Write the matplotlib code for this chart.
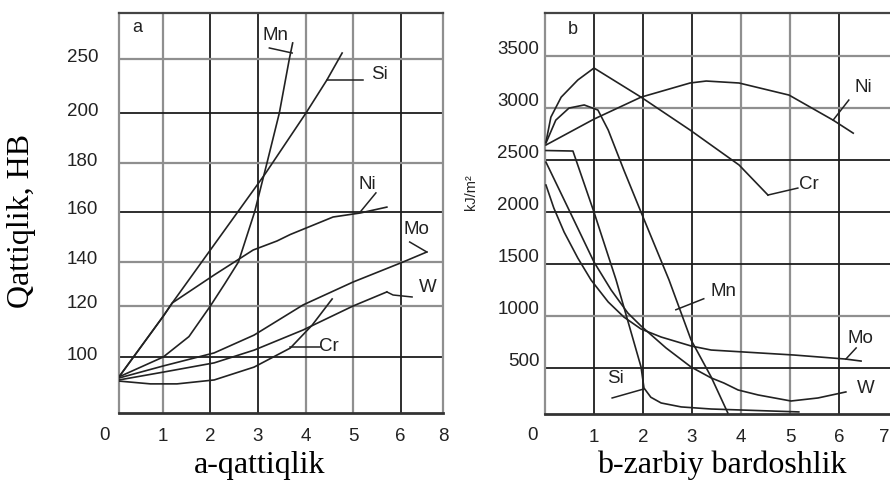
import numpy as np
import matplotlib
matplotlib.use('Agg')
import matplotlib.pyplot as plt
from matplotlib.transforms import ScaledTranslation

plt.rcParams['font.family'] = ['Liberation Sans', 'DejaVu Sans']

# ---- panel a: hardness HB vs alloying element, % ----
a_mn_x = [0.08, 1.01, 1.55, 2.0, 2.3, 2.59, 2.93, 3.19, 3.45, 3.66, 3.73]
a_mn_y = [92.9, 100, 108, 120, 130, 140, 160, 180, 200, 250, 265]
a_si_x = [0.08, 1.01, 1.2, 2.0, 3.15, 4.01, 4.45, 4.77]
a_si_y = [92.9, 116, 121.4, 144.8, 175.5, 200, 230.6, 255.6]
a_ni_x = [0.08, 1.01, 1.2, 2.08, 2.9, 3.4, 3.68, 4.58, 5.15, 5.71]
a_ni_y = [92.9, 116, 121.4, 134.1, 144.8, 148.4, 151, 158, 159.6, 162]
a_mo_x = [0.08, 1.01, 2.08, 2.92, 3.95, 5.0, 6.05, 6.55]
a_mo_y = [92.5, 96.8, 101.6, 108.6, 120.5, 130.9, 140, 144]
a_w_x = [0.08, 1.01, 2.08, 2.92, 3.95, 5.0, 5.71]
a_w_y = [91.8, 94.6, 97.9, 102.7, 110.6, 120, 126.4]
a_cr_x = [0.08, 0.74, 1.3, 2.08, 2.92, 3.68, 4.14, 4.56]
a_cr_y = [91.4, 90.4, 90.4, 91.8, 96.4, 103.5, 112.5, 123.2]

a_yticks = [100, 120, 140, 160, 180, 200, 250]
a_xticks = [1, 2, 3, 4, 5, 6, 6.89]
a_xticklabels = ['1', '2', '3', '4', '5', '6', '8']

# ---- panel b: impact toughness kJ/m2 ----
b_cr_x = [0.02, 0.12, 0.33, 0.67, 1.0, 1.96, 2.96, 3.96, 4.55]
b_cr_y = [2677, 2916, 3108, 3273, 3388, 3108, 2792, 2456, 2167]
b_ni_x = [0.02, 1.0, 1.96, 2.96, 3.29, 3.96, 4.98, 5.88, 6.29]
b_ni_y = [2648, 2897, 3108, 3244, 3263, 3244, 3128, 2887, 2762]
b_mn_x = [0.02, 0.22, 0.49, 0.80, 1.08, 1.29, 1.61, 1.96, 2.53, 2.98, 3.39, 3.73]
b_mn_y = [2667, 2887, 3003, 3033, 2984, 2792, 2406, 2002, 1352, 775, 419, 73]
b_si_x = [0.02, 0.57, 1.0, 1.45, 1.96, 2.02, 2.16, 2.37, 2.78, 3.39, 5.18]
b_si_y = [2595, 2590, 2002, 1352, 514, 312, 223, 168, 130, 110, 82]
b_mo_x = [0.02, 0.18, 0.39, 0.67, 0.94, 1.29, 1.61, 1.96, 2.37, 2.98, 3.39, 5.08, 6.14, 6.45]
b_mo_y = [2263, 2042, 1811, 1561, 1350, 1139, 994, 879, 802, 716, 677, 629, 590, 571]
b_w_x = [0.02, 0.51, 1.0, 1.35, 1.69, 1.96, 2.47, 2.98, 3.39, 3.65, 3.94, 4.35, 5.02, 5.57, 6.14]
b_w_y = [2483, 2004, 1523, 1254, 1033, 908, 697, 514, 409, 360, 293, 245, 187, 216, 274]

b_yticks = [500, 1000, 1500, 2000, 2500, 3000, 3500]
b_xgrid = [1, 2, 3, 4, 5, 6]
b_xticks = [1, 2, 3, 4, 5, 6, 6.93]
b_xticklabels = ['1', '2', '3', '4', '5', '6', '7']

# broken (non-uniform) HB axis of the original figure
a_scale_vals = [80, 100, 120, 140, 160, 180, 200, 250, 293]
a_scale_pos = [0, 56, 107, 151, 201, 250, 300, 354, 400]

GRAY = '#8f8f8f'
DARK = '#1c1c1c'
INK = '#222222'
SERIF = ['Liberation Serif', 'DejaVu Serif']

fig = plt.figure(figsize=(8.9, 4.8), dpi=100)
ax1 = fig.add_axes([119 / 890, 67 / 480, 324 / 890, 400 / 480])
ax2 = fig.add_axes([545 / 890, 66 / 480, 7.2 * 49 / 890, 401 / 480])


def fwd(v):
    return np.interp(v, a_scale_vals, a_scale_pos)


def inv(p):
    return np.interp(p, a_scale_pos, a_scale_vals)


ax1.set_yscale('function', functions=(fwd, inv))
ax1.set_xlim(0.08, 6.89)
ax1.set_ylim(80, 293)
ax2.set_xlim(0, 7.2)
ax2.set_ylim(62, 3917)

# grid
for x in a_xticks[:-1]:
    ax1.axvline(x, color=DARK if x in (2, 3, 6) else GRAY, lw=1.3 if x in (2, 3, 6) else 1.6, zorder=1)
for y in a_yticks:
    ax1.axhline(y, color=DARK if y in (100, 160, 200) else GRAY, lw=1.3 if y in (100, 160, 200) else 1.6, zorder=1)
for x in b_xgrid:
    ax2.axvline(x, color=DARK if x in (1, 2, 3, 6) else GRAY, lw=1.3 if x in (1, 2, 3, 6) else 1.6, zorder=1)
for y in b_yticks:
    dark = y in (500, 1500, 2000, 2500)
    ax2.axhline(y, color=DARK if dark else GRAY, lw=1.3 if dark else 1.6, zorder=1)

for ax in (ax1, ax2):
    ax.spines['left'].set_color(GRAY)
    ax.spines['left'].set_linewidth(1.6)
    ax.spines['right'].set_color(GRAY)
    ax.spines['right'].set_linewidth(1.6)
    ax.spines['top'].set_color('#444444')
    ax.spines['top'].set_linewidth(1.6)
    ax.spines['bottom'].set_color('#333333')
    ax.spines['bottom'].set_linewidth(2)

# curves
for xs, ys in [(a_mn_x, a_mn_y), (a_si_x, a_si_y), (a_ni_x, a_ni_y),
               (a_mo_x, a_mo_y), (a_w_x, a_w_y), (a_cr_x, a_cr_y)]:
    ax1.plot(xs, ys, color=INK, lw=1.2, zorder=3)
for xs, ys in [(b_cr_x, b_cr_y), (b_ni_x, b_ni_y), (b_mn_x, b_mn_y),
               (b_si_x, b_si_y), (b_mo_x, b_mo_y), (b_w_x, b_w_y)]:
    ax2.plot(xs, ys, color=INK, lw=1.2, zorder=3)

# leader lines and curve labels
lab_kw = dict(fontsize=13.5, color=INK, ha='center', va='center', zorder=4)
ax1.plot([3.24, 3.72], [260.3, 255.6], color=INK, lw=1.1)
ax1.text(3.36, 272.4, 'Mn', **lab_kw)
ax1.plot([4.45, 5.21], [230.6, 230.6], color=INK, lw=1.1)
ax1.text(5.55, 235.2, 'Si', **lab_kw)
ax1.plot([5.15, 5.48], [160, 167.8], color=INK, lw=1.1)
ax1.text(5.29, 171.4, 'Ni', **lab_kw)
ax1.plot([6.55, 6.19], [144, 148], color=INK, lw=1.1)
ax1.text(6.34, 152.8, 'Mo', **lab_kw)
ax1.plot([5.71, 5.84, 6.24], [126.4, 125.0, 124.1], color=INK, lw=1.1)
ax1.text(6.58, 128.2, 'W', **lab_kw)
ax1.plot([3.68, 4.31], [103.9, 103.9], color=INK, lw=1.1)
ax1.text(4.29, 104, 'Cr', **dict(lab_kw, ha='left'))
ax1.text(0.46, 279.9, 'a', fontsize=13, color=INK, ha='center', va='center')

ax2.plot([5.88, 6.2], [2887, 3080], color=INK, lw=1.1)
ax2.text(6.49, 3196, 'Ni', **lab_kw)
ax2.plot([4.55, 5.16], [2167, 2234], color=INK, lw=1.1)
ax2.text(5.18, 2273, 'Cr', **dict(lab_kw, ha='left'))
ax2.plot([2.67, 3.24], [1064, 1170], color=INK, lw=1.1)
ax2.text(3.65, 1235, 'Mn', **lab_kw)
ax2.plot([6.14, 6.35], [590, 697], color=INK, lw=1.1)
ax2.text(6.43, 784, 'Mo', **lab_kw)
ax2.text(6.55, 303, 'W', **lab_kw)
ax2.plot([1.37, 2.02], [216, 303], color=INK, lw=1.1)
ax2.text(1.43, 399, 'Si', **lab_kw)
ax2.text(0.57, 3763, 'b', fontsize=13, color=INK, ha='center', va='center')

# ticks
ax1.set_yticks(a_yticks)
ax1.set_yticklabels([str(v) for v in a_yticks])
ax1.set_xticks(a_xticks)
ax1.set_xticklabels(a_xticklabels)
ax2.set_yticks(b_yticks)
ax2.set_yticklabels([str(v) for v in b_yticks])
ax2.set_xticks(b_xticks)
ax2.set_xticklabels(b_xticklabels)
ax1.yaxis.set_minor_locator(plt.NullLocator())
ax1.tick_params(axis='y', length=0, pad=15, labelsize=13.5, labelcolor=INK)
ax1.tick_params(axis='x', length=0, pad=11, labelsize=13.5, labelcolor=INK)
ax2.tick_params(axis='y', length=0, pad=4, labelsize=13.5, labelcolor=INK)
ax2.tick_params(axis='x', length=0, pad=11, labelsize=13.5, labelcolor=INK)

# the printed y labels sit a little above their grid lines
for ax, dy in ((ax1, 4), (ax2, 9)):
    off = ScaledTranslation(0, dy / 100, fig.dpi_scale_trans)
    for lab in ax.get_yticklabels():
        lab.set_transform(lab.get_transform() + off)

for ax, dx in ((ax1, -14), (ax2, -13)):
    ax.annotate('0', xy=(0, 0), xycoords='axes fraction', xytext=(dx, -22),
                textcoords='offset pixels', ha='center', va='center',
                fontsize=13.5, color=INK)

# axis titles
fig.text(22 / 890, 1 - 221 / 480, 'Qattiqlik, HB', rotation=90, family=SERIF,
         fontsize=23, ha='center', va='center', color='black')
fig.text(471 / 890, 1 - 192 / 480, 'kJ/m²', rotation=90, fontsize=10.5,
         ha='center', va='center', color=INK)
fig.text(260 / 890, 7 / 480, 'a-qattiqlik', family=SERIF, fontsize=23,
         ha='center', va='baseline', color='black')
fig.text(722 / 890, 7 / 480, 'b-zarbiy bardoshlik', family=SERIF, fontsize=23,
         ha='center', va='baseline', color='black')

fig.savefig('out.png', dpi=100)
